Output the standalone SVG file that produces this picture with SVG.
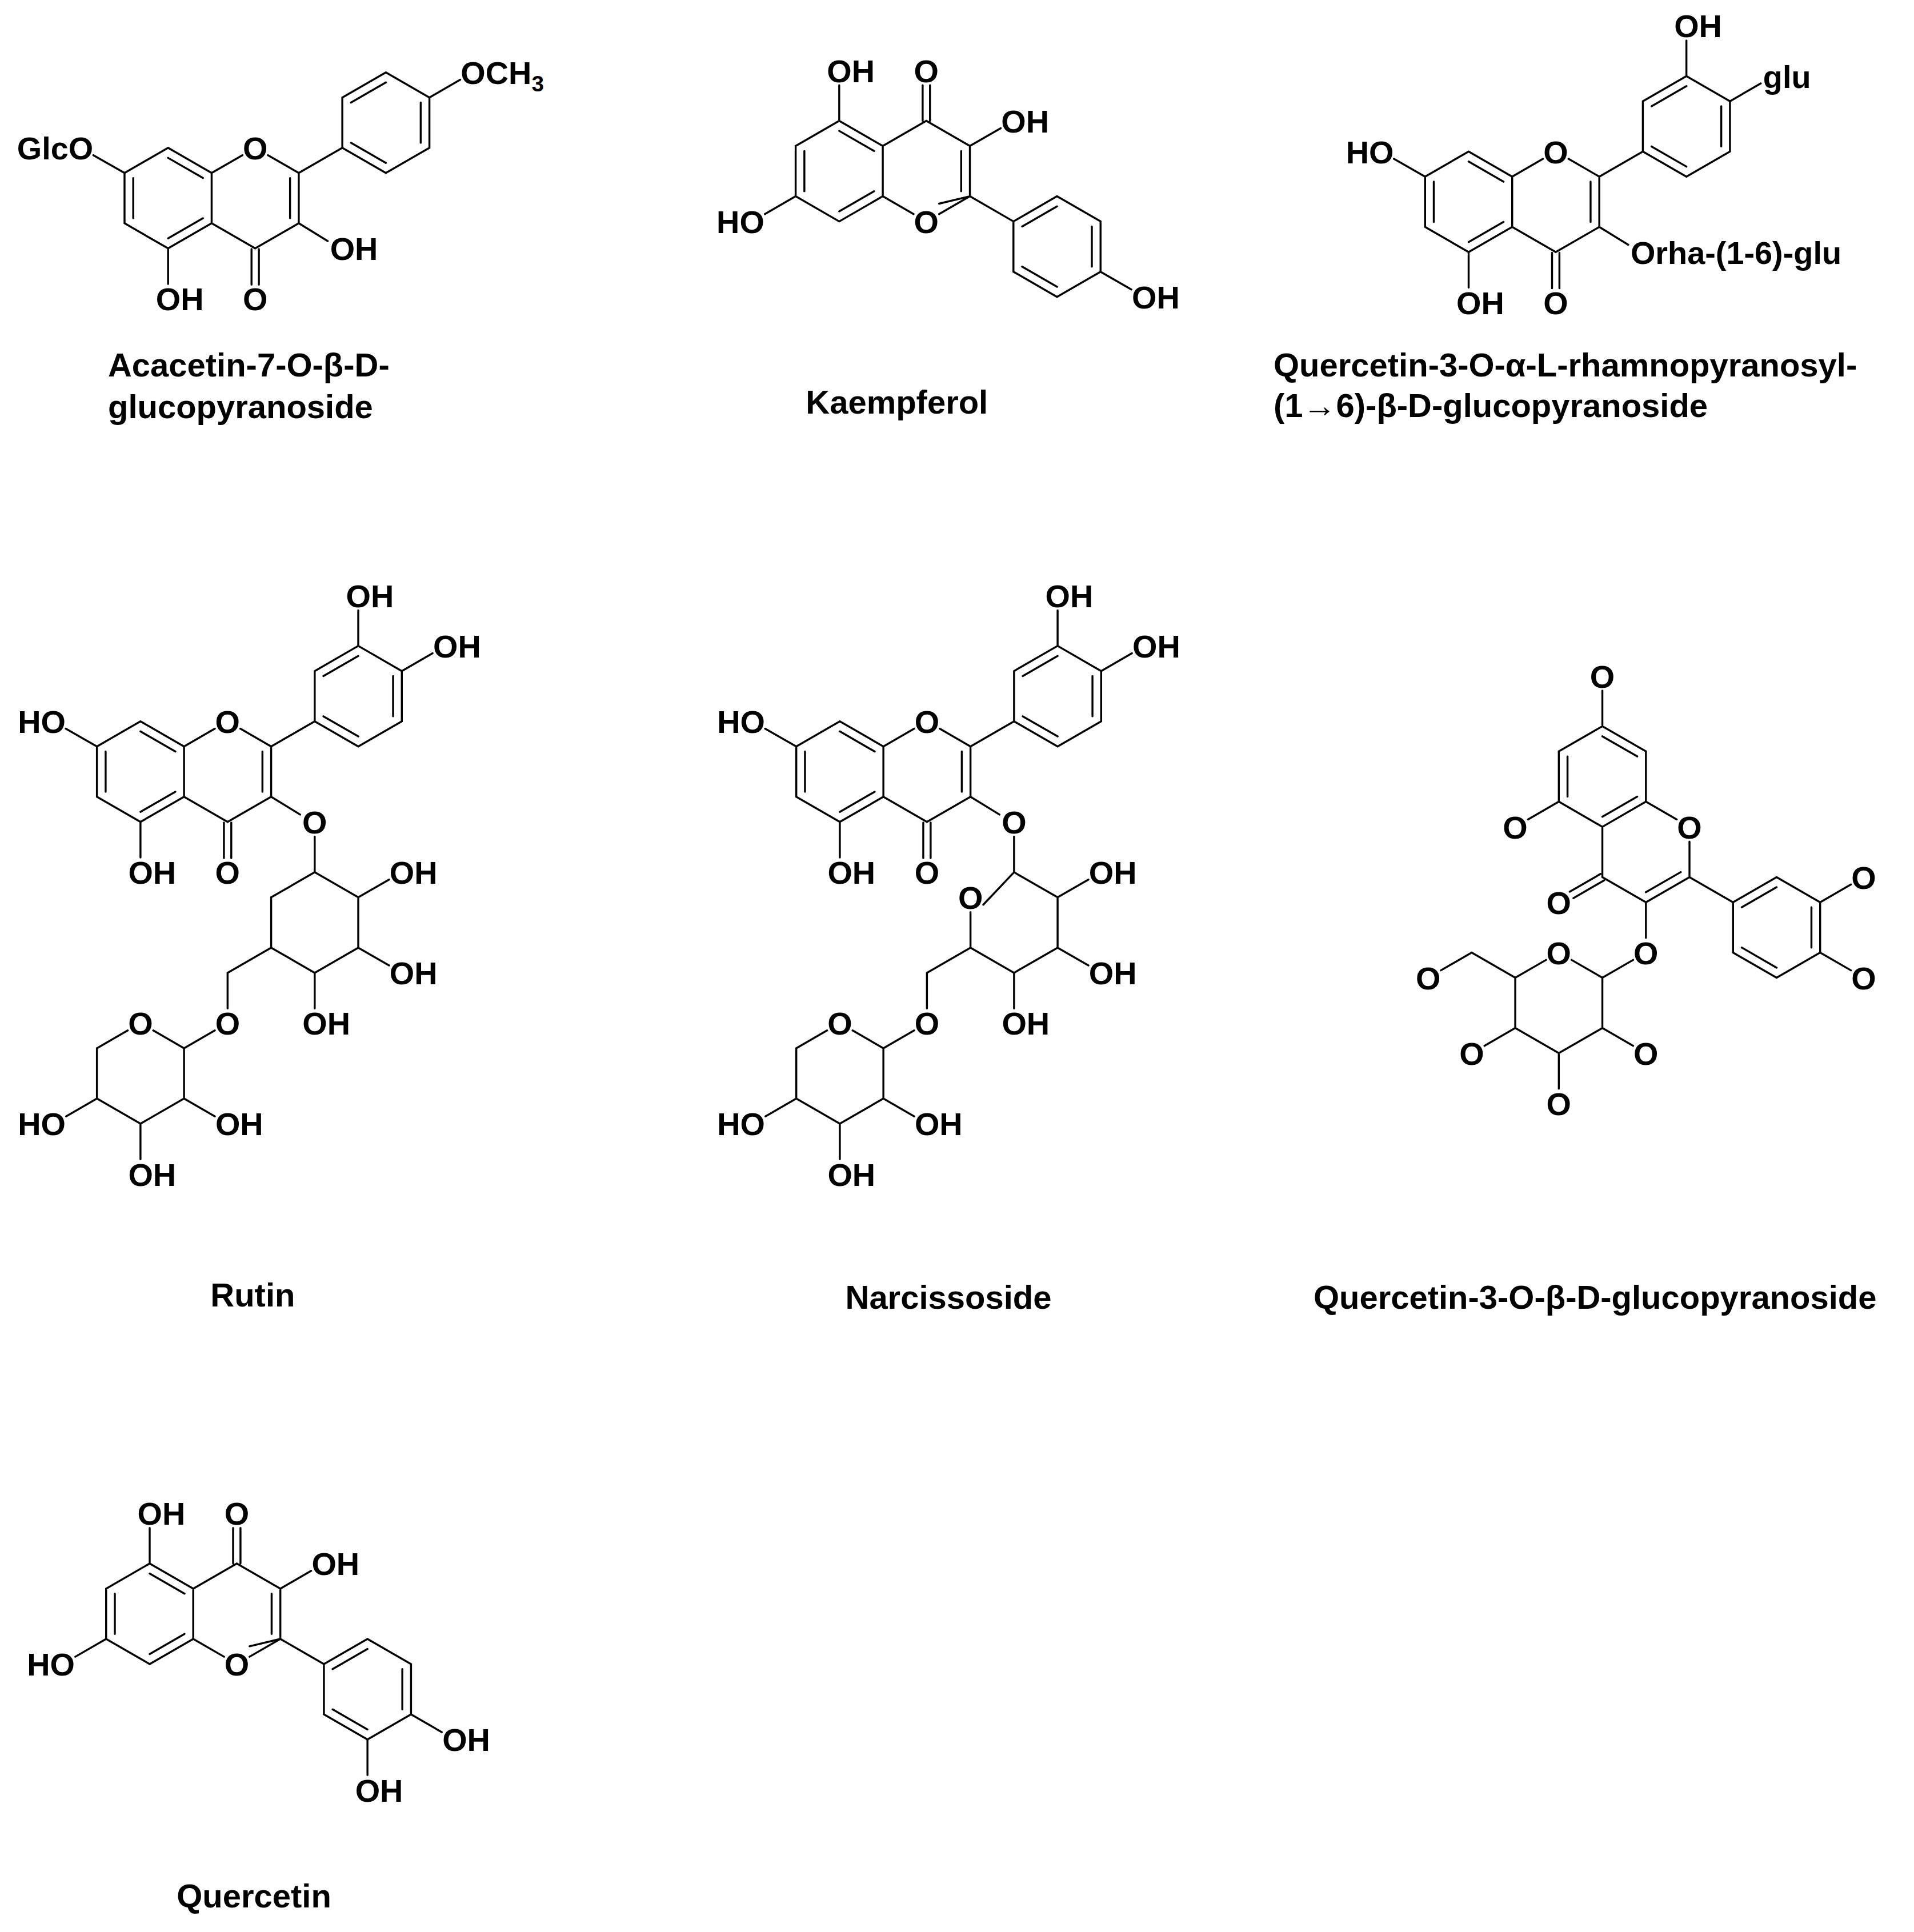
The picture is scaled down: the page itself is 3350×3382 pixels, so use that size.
<svg xmlns="http://www.w3.org/2000/svg" xmlns:xlink="http://www.w3.org/1999/xlink" width="3350" height="3382" viewBox="0 0 3350 3382">
<style>
.b{stroke:#000;stroke-width:1.6;fill:none;stroke-linecap:round}
.a{font-family:"Liberation Sans",Arial,sans-serif;font-weight:bold;font-size:26px;fill:#000}
.m{text-anchor:middle}
.e{text-anchor:end}
.c{font-family:"Liberation Sans",Arial,sans-serif;font-weight:bold;font-size:27px;fill:#000}
</style>
<defs>
<g id="coreA">
<path class="b" d="M101.5,141L137,120.5L172.5,141L172.5,182L137,202.5L101.5,182Z M108.6,145.1L108.6,177.9 M137,128.7L165.4,145.1 M165.4,177.9L137,194.3 M172.5,141L197.6,126.5 M218.4,126.5L243.5,141L243.5,182L208,202.5L172.5,182 M236.4,145.1L236.4,177.9 M205,203L205,232 M211,203L211,232 M137,202.5L137,231.5 M101.5,141L76.1,126.5 M243.5,182L267.1,196.5 M243.5,141L279,120.5 M279,120.5L279,79.5L314.5,59L350,79.5L350,120.5L314.5,141Z M286.1,83.6L314.5,67.2 M342.9,83.6L342.9,116.4 M314.5,132.8L286.1,116.4"/>
<text class="a m" x="208" y="130">O</text>
<text class="a m" x="208" y="253">O</text>
<text class="a" x="127" y="253">OH</text>
</g>
<g id="coreK">
<path class="b" d="M648.5,119L684,98.5L719.5,119L719.5,160L684,180.5L648.5,160Z M655.6,123.1L655.6,155.9 M684,172.3L712.4,155.9 M712.4,123.1L684,106.7 M719.5,160L729.9,166 M729.9,166L729.9,166 M765.4,166L790.5,160 M719.5,160L744.6,174.5 M765.4,174.5L790.5,160L790.5,119L755,98.5L719.5,119 M783.4,155.9L783.4,123.1 M752,98.5L752,69.5 M758,98.5L758,69.5 M684,98.5L684,69.5 M790.5,119L815.6,104.5 M648.5,160L623.4,174.5 M790.5,160L826,180.5 M826,180.5L861.5,160L897,180.5L897,221.5L861.5,242L826,221.5Z M833.1,217.4L861.5,233.8 M889.9,184.6L889.9,217.4 M861.5,168.2L833.1,184.6 M897,221.5L922.1,236"/>
<text class="a m" x="755" y="190">O</text>
<text class="a m" x="755" y="67">O</text>
<text class="a" x="674" y="67">OH</text>
<text class="a" x="816" y="108">OH</text>
<text class="a e" x="623" y="190">HO</text>
<text class="a" x="922.5" y="251.5">OH</text>
</g>
<g id="tail">
<path class="b" d="M256.5,682L256.5,711 M256.5,711L292,731.5L292,772.5L256.5,793L221,772.5 M292,731.5L317.1,717 M292,772.5L317.1,787 M256.5,793L256.5,822 M221,772.5L185.5,793L185.5,822 M175.1,840L150,854.5 M124.9,840L150,854.5L150,895.5L114.5,916L79,895.5L79,854.5L104.1,840 M79,895.5L53.9,910 M150,895.5L175.1,910 M114.5,916L114.5,945"/>
<text class="a m" x="256.5" y="679.5">O</text>
<text class="a" x="317.5" y="720.5">OH</text>
<text class="a" x="317.5" y="802.5">OH</text>
<text class="a" x="246.5" y="843.5">OH</text>
<text class="a m" x="185.5" y="843.5">O</text>
<text class="a m" x="114.5" y="843.5">O</text>
<text class="a e" x="53.5" y="925.5">HO</text>
<text class="a" x="175.5" y="925.5">OH</text>
<text class="a" x="104.5" y="966.5">OH</text>
</g>
</defs>
<rect width="3350" height="3382" fill="#fff"/>
<g transform="scale(2.14744)">
<g id="acacetin">
<use xlink:href="#coreA"/>
<path class="b" d="M350,79.5L375.1,65"/>
<text class="a e" x="76" y="130">GlcO</text>
<text class="a" x="269" y="212">OH</text>
<text class="a" x="375.5" y="68.5">OCH<tspan font-size="18" dy="6">3</tspan></text>
<text class="c" x="88" y="307">Acacetin-7-O-β-D-</text>
<text class="c" x="88" y="341">glucopyranoside</text>
</g>
<g id="kaempferol">
<use xlink:href="#coreK"/>
<text class="c m" x="731" y="337">Kaempferol</text>
</g>
<g id="quercetin-rutinoside">
<g transform="translate(1060,3)">
<use xlink:href="#coreA"/>
<path class="b" d="M314.5,59L314.5,30 M350,79.5L375.1,65"/>
<text class="a e" x="76" y="130">HO</text>
<text class="a" x="269" y="212">Orha-(1-6)-glu</text>
<text class="a" x="304.5" y="27.5">OH</text>
<text class="a" x="377" y="68.5">glu</text>
</g>
<text class="c" x="1038" y="307">Quercetin-3-O-α-L-rhamnopyranosyl-</text>
<text class="c" x="1038" y="340">(1→6)-β-D-glucopyranoside</text>
</g>
<g id="rutin">
<g transform="translate(-22.5,467.5)">
<use xlink:href="#coreA"/>
<path class="b" d="M314.5,59L314.5,30 M350,79.5L375.1,65"/>
<text class="a e" x="76" y="130">HO</text>
<text class="a" x="304.5" y="27.5">OH</text>
<text class="a" x="375.5" y="68.5">OH</text>
</g>
<use xlink:href="#tail"/>
<path class="b" d="M221,772.5L221,731.5L256.5,711"/>
<text class="c m" x="206" y="1065">Rutin</text>
</g>
<g id="narcissoside">
<g transform="translate(570,0)">
<g transform="translate(-22.5,467.5)">
<use xlink:href="#coreA"/>
<path class="b" d="M314.5,59L314.5,30 M350,79.5L375.1,65"/>
<text class="a e" x="76" y="130">HO</text>
<text class="a" x="304.5" y="27.5">OH</text>
<text class="a" x="375.5" y="68.5">OH</text>
</g>
<use xlink:href="#tail"/>
<path class="b" d="M221,772.5L221,743.5 M231.4,737.5L256.5,711"/>
<text class="a m" x="221" y="741">O</text>
</g>
<text class="c m" x="773" y="1067">Narcissoside</text>
</g>
<g id="quercetin-glucoside">
<path class="b" d="M1306,592L1341.5,612.5L1341.5,653.5L1306,674L1270.5,653.5L1270.5,612.5Z M1306,600.2L1334.4,616.6 M1334.4,649.4L1306,665.8 M1277.6,616.6L1277.6,649.4 M1341.5,653.5L1366.6,668 M1377,686L1377,715L1341.5,735.5L1306,715L1306,674 M1369.9,710.9L1341.5,727.3 M1304.5,712.4L1279.4,726.9 M1307.5,717.6L1282.4,732.1 M1306,592L1306,563 M1270.5,653.5L1245.4,668 M1341.5,735.5L1341.5,764.5 M1331.1,782.5L1306,797 M1280.9,782.5L1306,797L1306,838L1270.5,858.5L1235,838L1235,797L1260.1,782.5 M1235,797L1199.5,776.5L1174.4,791 M1235,838L1209.9,852.5 M1306,838L1331.1,852.5 M1270.5,858.5L1270.5,887.5 M1377,715L1412.5,735.5 M1412.5,735.5L1448,715L1483.5,735.5L1483.5,776.5L1448,797L1412.5,776.5Z M1419.6,739.6L1448,723.2 M1476.4,739.6L1476.4,772.4 M1448,788.8L1419.6,772.4 M1483.5,735.5L1508.6,721 M1483.5,776.5L1508.6,791"/>
<text class="a m" x="1306" y="560.5">O</text>
<text class="a m" x="1235" y="683.5">O</text>
<text class="a m" x="1377" y="683.5">O</text>
<text class="a m" x="1270.5" y="745">O</text>
<text class="a m" x="1341.5" y="786">O</text>
<text class="a m" x="1270.5" y="786">O</text>
<text class="a m" x="1164" y="806.5">O</text>
<text class="a m" x="1199.5" y="868">O</text>
<text class="a m" x="1341.5" y="868">O</text>
<text class="a m" x="1270.5" y="909">O</text>
<text class="a m" x="1519" y="724.5">O</text>
<text class="a m" x="1519" y="806.5">O</text>
<text class="c m" x="1300" y="1067">Quercetin-3-O-β-D-glucopyranoside</text>
</g>
<g id="quercetin">
<g transform="translate(-562,1176)">
<use xlink:href="#coreK"/>
<path class="b" d="M861.5,242L861.5,271"/>
<text class="a" x="851.5" y="292.5">OH</text>
</g>
<text class="c m" x="207" y="1555">Quercetin</text>
</g>
</g>
</svg>
